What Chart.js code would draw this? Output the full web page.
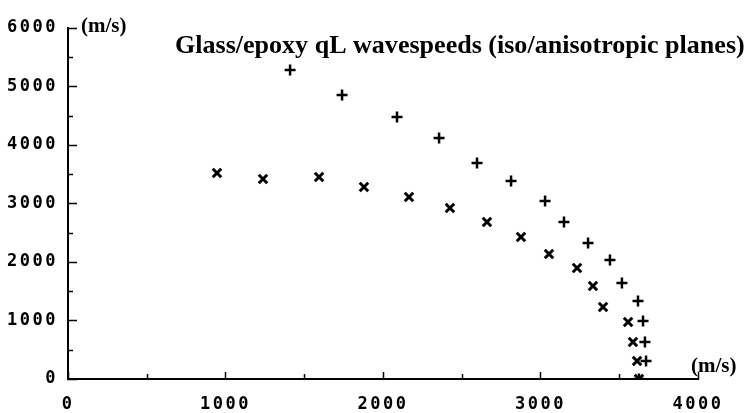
<!DOCTYPE html>
<html>
<head>
<meta charset="utf-8">
<script src="https://cdn.jsdelivr.net/npm/chart.js@4"></script>
<style>
  html, body { margin: 0; padding: 0; background: #fff; }
  #wrap { width: 750px; height: 413px; }
</style>
</head>
<body>
<div id="wrap"><canvas id="chart" width="750" height="413"></canvas></div>
<script>
// values (m/s)
const plusX  = [1410, 1740, 2089, 2356, 2597, 2813, 3029, 3149, 3302, 3441, 3517, 3619, 3651, 3663, 3670, 3625];
const plusY  = [5282, 4855, 4479, 4120, 3692, 3385, 3043, 2684, 2325, 2034, 1641, 1333,  991,  632,  308,    0];
const crossX = [ 946, 1238, 1594, 1879, 2165, 2425, 2660, 2876, 3054, 3232, 3333, 3397, 3556, 3587, 3613, 3625];
const crossY = [3521, 3419, 3453, 3282, 3111, 2923, 2684, 2427, 2137, 1897, 1590, 1231,  974,  632,  308,    0];

const xTicks = [0, 1000, 2000, 3000, 4000];
const yTicks = [0, 1000, 2000, 3000, 4000, 5000, 6000];
const minorX = [500, 1500, 2500, 3500];
const minorY = [500, 1500, 2500, 3500, 4500, 5500];

const titleText = 'Glass/epoxy qL wavespeeds (iso/anisotropic planes)';
const unitText = '(m/s)';

function pairs(xs, ys) {
    return xs.map((x, i) => ({x: x, y: ys[i]}));
}

// wide tick digits like the original, only for the axis labels
const spacing = {
    id: 'spacing',
    beforeDraw(chart) { chart.ctx.letterSpacing = '2.5px'; },
    beforeDatasetsDraw(chart) { chart.ctx.letterSpacing = '0px'; }
};

const extras = {
    id: 'extras',
    afterDraw(chart) {
        const ctx = chart.ctx;
        const x = chart.scales.x, y = chart.scales.y;
        ctx.save();
        ctx.letterSpacing = '0px';
        ctx.strokeStyle = '#000';
        ctx.lineWidth = 1.5;
        // short minor ticks
        ctx.beginPath();
        minorX.forEach(v => {
            const px = Math.round(x.getPixelForValue(v)) + 0.5;
            ctx.moveTo(px, y.bottom);
            ctx.lineTo(px, y.bottom - 5);
        });
        minorY.forEach(v => {
            const py = Math.round(y.getPixelForValue(v)) + 0.5;
            ctx.moveTo(x.left, py);
            ctx.lineTo(x.left + 5, py);
        });
        ctx.stroke();

        ctx.fillStyle = '#000';
        ctx.textBaseline = 'alphabetic';
        ctx.textAlign = 'left';
        ctx.font = 'bold 21px "Liberation Serif"';
        ctx.fillText(unitText, 81, 32);
        ctx.fillText(unitText, 691, 372);

        ctx.font = 'bold 20px "Liberation Serif"';
        const w = ctx.measureText(titleText).width;
        const size = 20 * 570 / w;
        ctx.font = 'bold ' + size.toFixed(2) + 'px "Liberation Serif"';
        ctx.fillText(titleText, 175, 53);
        ctx.restore();
    }
};

const tickFont = { family: '"DejaVu Sans Mono"', size: 17, weight: 'bold' };

const ctx = document.getElementById('chart').getContext('2d');
const chart = new Chart(ctx, {
    type: 'scatter',
    data: {
        datasets: [
            {
                label: 'anisotropic plane',
                data: pairs(plusX, plusY),
                pointStyle: 'cross',
                pointRadius: 5.5,
                borderColor: '#000',
                backgroundColor: '#000',
                borderWidth: 2.5
            },
            {
                label: 'isotropic plane',
                data: pairs(crossX, crossY),
                pointStyle: 'crossRot',
                pointRadius: 6,
                borderColor: '#000',
                backgroundColor: '#000',
                borderWidth: 3
            }
        ]
    },
    options: {
        responsive: false,
        animation: false,
        layout: { padding: { top: 28, right: 52, left: 0, bottom: 0 } },
        plugins: {
            legend: { display: false },
            tooltip: { enabled: false }
        },
        scales: {
            x: {
                type: 'linear',
                min: 0,
                max: 4000,
                afterBuildTicks: s => { s.ticks = xTicks.map(v => ({value: v})); },
                afterFit: s => {
                    s.height = 34;
                    s.paddingLeft = 0; s.paddingRight = 0;
                },
                border: { display: true, color: '#000', width: 2 },
                grid: { drawOnChartArea: false, tickLength: -7, tickColor: '#000', tickWidth: 1.5 },
                ticks: {
                    padding: 22,
                    color: '#000',
                    maxRotation: 0,
                    font: tickFont,
                    callback: v => String(v)
                }
            },
            y: {
                type: 'linear',
                min: 0,
                max: 6000,
                afterBuildTicks: s => { s.ticks = yTicks.map(v => ({value: v})); },
                afterFit: s => {
                    s.width = 68;
                    s.paddingTop = 0; s.paddingBottom = 0;
                },
                border: { display: true, color: '#000', width: 2 },
                grid: { drawOnChartArea: false, tickLength: -9, tickColor: '#000', tickWidth: 1.5 },
                ticks: {
                    padding: 19,
                    color: '#000',
                    font: tickFont,
                    callback: v => String(v)
                }
            }
        }
    },
    plugins: [spacing, extras]
});
</script>
</body>
</html>
